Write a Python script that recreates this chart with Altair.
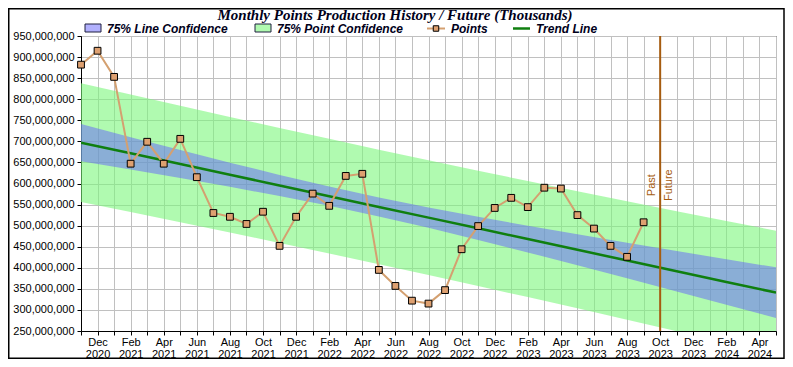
import altair as alt
import pandas as pd

# ---------------- data ----------------
month_names = ["Jan", "Feb", "Mar", "Apr", "May", "Jun", "Jul", "Aug", "Sep", "Oct", "Nov", "Dec"]
n_months = 43            # Nov 2020 (index 0) ... May 2024 (index 42)
start_month = 10         # Nov (0-based)
start_year = 2020

# monthly points (millions), Nov 2020 .. Sep 2023
points_m = [882, 915, 853, 647, 699, 647, 706, 615, 530, 521, 504, 533, 452, 521,
            576, 547, 618, 623, 395, 357, 322, 315, 347, 444, 499, 542, 566, 544,
            590, 588, 525, 493, 452, 426, 508]

# band / trend samples (millions) at month indices
band_idx = [0, 3, 6, 9, 12, 15, 18, 21, 24, 27, 30, 33, 36, 39, 42]
trend_m = [697.0, 671.6, 646.1, 620.7, 595.3, 569.9, 544.4, 519.0, 493.6, 468.1,
           442.7, 417.3, 391.9, 366.4, 341.0]
line_hi = [741.0, 710.0, 679.3, 649.4, 620.4, 592.8, 567.0, 543.2, 521.0, 499.7,
           479.3, 459.4, 439.8, 420.3, 401.0]
line_lo = [653.0, 633.2, 612.9, 592.0, 570.2, 547.0, 521.8, 494.8, 466.2, 436.5,
           406.1, 375.2, 344.0, 312.5, 281.0]
pt_hi = [838.1, 811.1, 784.2, 757.8, 731.7, 705.9, 680.3, 655.2, 630.4, 605.8,
         581.7, 557.9, 534.3, 511.0, 488.0]
pt_lo = [555.9, 532.1, 508.0, 483.6, 458.9, 433.9, 408.5, 382.8, 356.8, 330.4,
         303.7, 276.7, 249.5, 221.8, 194.0]

past_future_idx = 35     # Oct 2023
title = "Monthly Points Production History / Future (Thousands)"
legend_labels = ["75% Line Confidence", "75% Point Confidence", "Points", "Trend Line"]

# ---------------- tables ----------------
M = 1_000_000
pts = pd.DataFrame({"i": list(range(len(points_m))), "v": [p * M for p in points_m]})
band = pd.DataFrame({
    "i": band_idx,
    "trend": [t * M for t in trend_m],
    "lhi": [v * M for v in line_hi], "llo": [v * M for v in line_lo],
    "phi": [v * M for v in pt_hi], "plo": [v * M for v in pt_lo],
})

mon_lbl = [month_names[(start_month + k) % 12] for k in range(n_months)]
yr_lbl = [str(start_year + (start_month + k) // 12) for k in range(n_months)]
mon_js = "[" + ",".join("'%s'" % s for s in mon_lbl) + "]"
yr_js = "[" + ",".join("'%s'" % s for s in yr_lbl) + "]"
label_expr = f"datum.value % 2 == 1 ? [{mon_js}[datum.value], {yr_js}[datum.value]] : ''"

FONT = "Liberation Sans"
GREEN_FILL = "#7bf77b"
BLUE_FILL = "#6462fc"
PT_LINE = "#d4a070"
PT_FILL = "#dea070"
TREND = "#0f7f0f"
BROWN = "#a65c10"
TXT = "#00001a"

xscale = alt.Scale(domain=[0, n_months - 1], nice=False, zero=False)
yscale = alt.Scale(domain=[250 * M, 950 * M], nice=False, zero=False)

x_axis = alt.Axis(values=list(range(n_months)), labelExpr=label_expr, title=None,
                  tickSize=4, labelPadding=1, labelLineHeight=12, labelAngle=0,
                  labelOverlap=False, labelFlush=False, labelBound=False)
y_axis = alt.Axis(values=list(range(250 * M, 950 * M + 1, 50 * M)), format=",d", title=None,
                  tickSize=4, labelPadding=3, labelOverlap=False, labelFlush=False,
                  labelBound=False)


def X(field="i"):
    return alt.X(f"{field}:Q", scale=xscale, axis=x_axis)


def Y(field):
    return alt.Y(f"{field}:Q", scale=yscale, axis=y_axis)


base_band = alt.Chart(band)
green = base_band.mark_area(color=GREEN_FILL, opacity=0.6, clip=True).encode(
    x=X(), y=Y("plo"), y2="phi:Q")
blue = base_band.mark_area(color=BLUE_FILL, opacity=0.5, clip=True).encode(
    x=X(), y=Y("llo"), y2="lhi:Q")
trend = base_band.mark_line(color=TREND, strokeWidth=2.5, clip=True).encode(
    x=X(), y=Y("trend"))

pline = alt.Chart(pts).mark_line(color=PT_LINE, strokeWidth=2).encode(x=X(), y=Y("v"))
pmark = alt.Chart(pts).mark_square(size=46, fill=PT_FILL, stroke="#000", strokeWidth=1,
                                   opacity=1).encode(x=X(), y=Y("v"))

pf = pd.DataFrame({"i": [past_future_idx], "v": [596 * M], "a": ["Past"], "b": ["Future"]})
pf_rule = alt.Chart(pf).mark_rule(color=BROWN, strokeWidth=2).encode(x=X())
past_txt = alt.Chart(pf).mark_text(angle=270, align="center", baseline="bottom", dy=-3,
                                   font=FONT, fontSize=11, color=BROWN).encode(
    x=X(), y=Y("v"), text="a:N")
fut_txt = alt.Chart(pf).mark_text(angle=270, align="center", baseline="top", dy=3,
                                  font=FONT, fontSize=11, color=BROWN).encode(
    x=X(), y=Y("v"), text="b:N")

one = pd.DataFrame({"t": [title]})
title_mark = alt.Chart(one).mark_text(font="Liberation Serif", fontSize=15, fontStyle="italic",
                                      fontWeight="bold", color=TXT, align="center",
                                      baseline="alphabetic").encode(
    x=alt.value(314), y=alt.value(-16.5), text="t:N")

lg = pd.DataFrame({"t": [legend_labels[0]]})


def ltext(label, x):
    return alt.Chart(pd.DataFrame({"t": [label]})).mark_text(
        font=FONT, fontSize=12, fontStyle="italic", fontWeight="bold", color=TXT,
        align="left", baseline="middle").encode(x=alt.value(x), y=alt.value(-7.5), text="t:N")


sw1 = alt.Chart(lg).mark_rect(fill=BLUE_FILL, fillOpacity=0.5, stroke="#202040",
                              strokeWidth=1).encode(
    x=alt.value(4), x2=alt.value(20), y=alt.value(-12), y2=alt.value(-4))
sw2 = alt.Chart(lg).mark_rect(fill=GREEN_FILL, fillOpacity=0.6, stroke="#202040",
                              strokeWidth=1).encode(
    x=alt.value(174), x2=alt.value(190), y=alt.value(-12), y2=alt.value(-4))
lp_line = alt.Chart(lg).mark_rule(color=PT_LINE, strokeWidth=2).encode(
    x=alt.value(346), x2=alt.value(364), y=alt.value(-7.5))
lp_sq = alt.Chart(lg).mark_square(size=30, fill=PT_FILL, stroke="#000", strokeWidth=1,
                                  opacity=1).encode(x=alt.value(355), y=alt.value(-7.5))
lt_line = alt.Chart(lg).mark_rule(color=TREND, strokeWidth=2.5).encode(
    x=alt.value(432), x2=alt.value(449), y=alt.value(-7.5))

frame = alt.Chart(lg).mark_rect(fillOpacity=0, stroke="#000", strokeWidth=1.5).encode(
    x=alt.value(-72.25), x2=alt.value(703), y=alt.value(-27.25), y2=alt.value(322.2))

chart = alt.layer(
    green, blue, trend, pline, pmark, pf_rule, past_txt, fut_txt,
    title_mark, sw1, sw2, lp_line, lp_sq, lt_line,
    ltext(legend_labels[0], 26), ltext(legend_labels[1], 196),
    ltext(legend_labels[2], 370), ltext(legend_labels[3], 455),
    frame,
).properties(
    width=695, height=295,
    autosize=alt.AutoSizeParams(type="none"),
    padding={"left": 73, "top": 28, "right": 9, "bottom": 28},
    background="white",
).configure_axis(
    gridColor="#c0c0c0", gridWidth=1, domainColor="#000", tickColor="#000",
    labelFont=FONT, labelFontSize=11, labelColor="#000",
).configure_view(stroke="#000", strokeWidth=1)

chart.save("out.html", embed_options={"renderer": "svg", "actions": False})
